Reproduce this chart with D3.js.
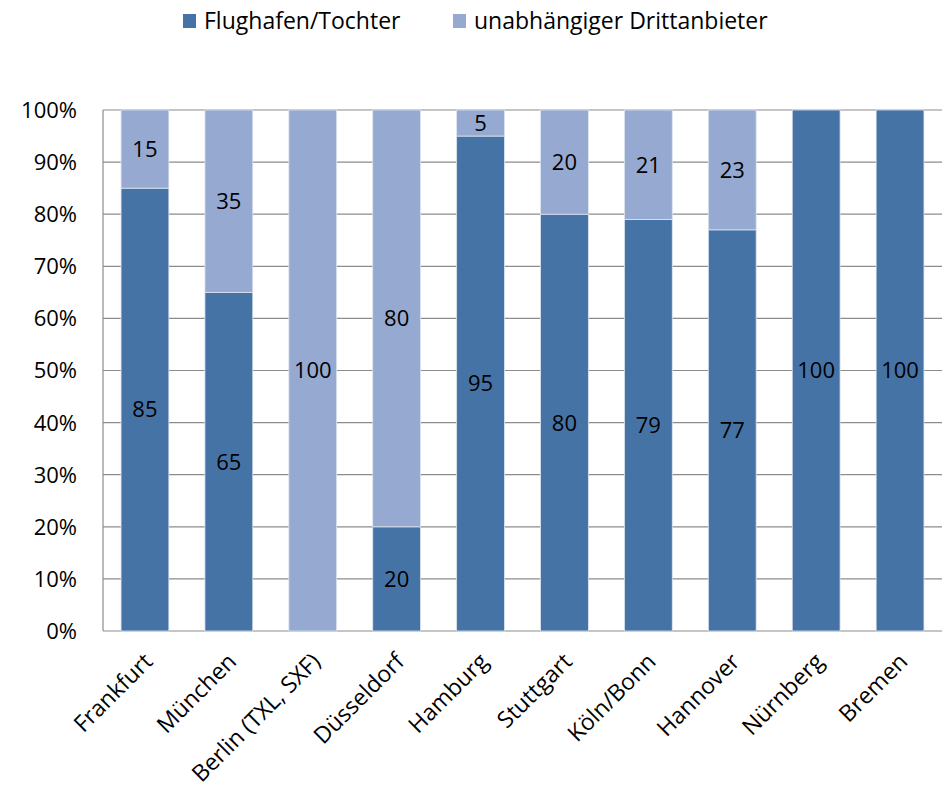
<!DOCTYPE html>
<html>
<head>
<meta charset="utf-8">
<script src="https://cdn.jsdelivr.net/npm/d3@7"></script>
<style>
  body { margin: 0; background: #fff; }
  text { font-family: "Open Sans", sans-serif; fill: #000; }
</style>
</head>
<body>
<script>
const categories = ["Frankfurt", "München", "Berlin (TXL, SXF)", "Düsseldorf", "Hamburg",
  "Stuttgart", "Köln/Bonn", "Hannover", "Nürnberg", "Bremen"];
const flughafen = [85, 65, 0, 20, 95, 80, 79, 77, 100, 100];
const drittanbieter = [15, 35, 100, 80, 5, 20, 21, 23, 0, 0];
const seriesNames = ["Flughafen/Tochter", "unabhängiger Drittanbieter"];
const yTicks = [0, 10, 20, 30, 40, 50, 60, 70, 80, 90, 100];

const colors = ["#4673a6", "#95a9d1"];
const width = 942, height = 791;
const margin = {top: 110, right: 0, bottom: 160, left: 103};

const rows = categories.map((c, i) => ({cat: c, flughafen: flughafen[i], dritt: drittanbieter[i]}));
const stack = d3.stack().keys(["flughafen", "dritt"])(rows);

const svg = d3.select("body").append("svg")
  .attr("width", width).attr("height", height);

const x = d3.scaleBand()
  .domain(categories)
  .range([margin.left, width - margin.right])
  .paddingInner(0.43).paddingOuter(0.215);

const y = d3.scaleLinear()
  .domain([0, 100])
  .range([height - margin.bottom, margin.top]);

// gridlines
svg.append("g")
  .selectAll("line")
  .data(yTicks)
  .join("line")
  .attr("x1", margin.left).attr("x2", width - margin.right)
  .attr("y1", d => y(d)).attr("y2", d => y(d))
  .attr("stroke", "#8c8c8c").attr("stroke-width", 1.2);

// y axis line
svg.append("line")
  .attr("x1", margin.left).attr("x2", margin.left)
  .attr("y1", y(0)).attr("y2", y(100))
  .attr("stroke", "#8c8c8c").attr("stroke-width", 1.2);

// y tick labels
svg.append("g")
  .selectAll("text")
  .data(yTicks)
  .join("text")
  .attr("x", 77).attr("y", d => y(d))
  .attr("dy", "0.36em")
  .attr("text-anchor", "end")
  .style("font-size", "22px")
  .text(d => d + "%");

// bars
svg.append("g")
  .selectAll("g")
  .data(stack)
  .join("g")
  .attr("fill", (d, i) => colors[i])
  .selectAll("rect")
  .data(d => d)
  .join("rect")
  .attr("x", d => x(d.data.cat))
  .attr("y", d => y(d[1]))
  .attr("width", x.bandwidth())
  .attr("height", d => y(d[0]) - y(d[1]))
  .attr("stroke", "#dde4ef").attr("stroke-width", 0.8);

// value labels
svg.append("g")
  .selectAll("g")
  .data(stack)
  .join("g")
  .selectAll("text")
  .data(d => d.filter(s => s[1] - s[0] > 0))
  .join("text")
  .attr("x", d => x(d.data.cat) + x.bandwidth() / 2)
  .attr("y", d => y((d[0] + d[1]) / 2))
  .attr("dy", "0.36em")
  .attr("text-anchor", "middle")
  .style("font-size", "22px")
  .text(d => d[1] - d[0]);

// x category labels
svg.append("g")
  .selectAll("text")
  .data(categories)
  .join("text")
  .attr("transform", d => `translate(${x(d) + x.bandwidth() / 2 + 9},${y(0) + 32}) rotate(-45)`)
  .attr("text-anchor", "end")
  .style("font-size", "23px")
  .text(d => d);

// legend
const legend = svg.append("g");
const legendX = [183, 453];
seriesNames.forEach((name, i) => {
  legend.append("rect")
    .attr("x", legendX[i]).attr("y", 14)
    .attr("width", 13).attr("height", 14)
    .attr("fill", colors[i]);
  legend.append("text")
    .attr("x", legendX[i] + 21).attr("y", 21)
    .attr("dy", "0.36em")
    .style("font-size", "23px")
    .text(name);
});
</script>
</body>
</html>
